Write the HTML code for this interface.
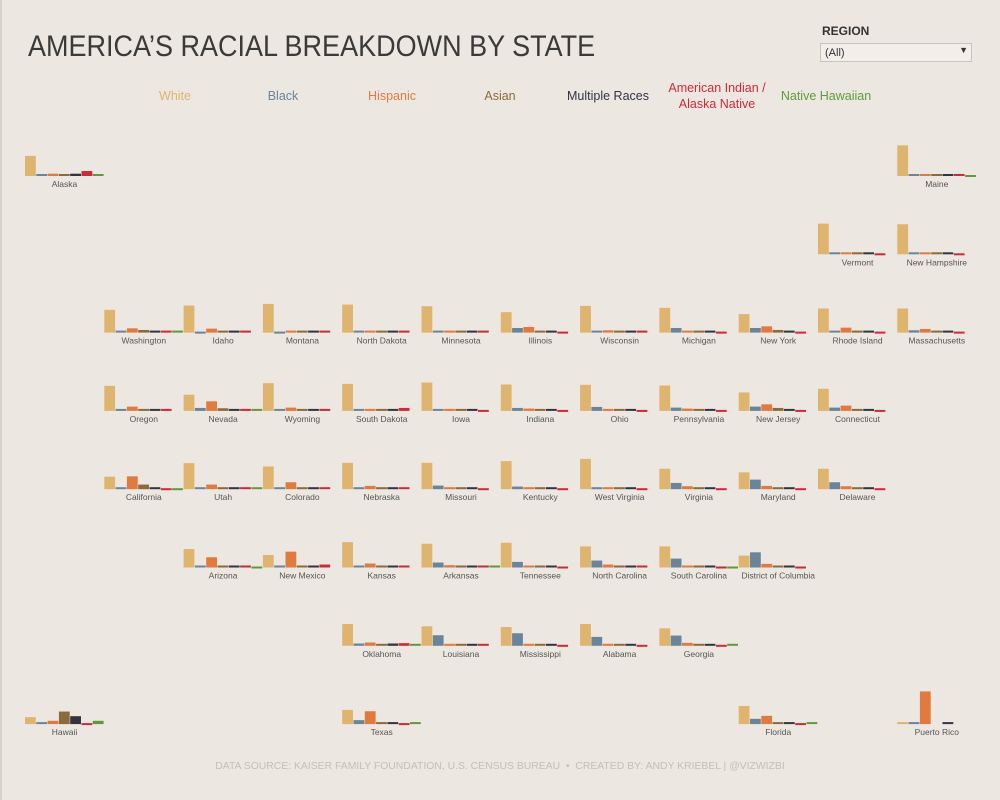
<!DOCTYPE html>
<html><head><meta charset="utf-8"><style>
body{margin:0;width:1000px;height:800px;background:#ece8e1;font-family:"Liberation Sans",sans-serif;position:relative;overflow:hidden}
#title{position:absolute;left:28px;top:30px;font-size:30px;color:#3a3a3a;transform:scaleX(0.9);transform-origin:0 0;white-space:nowrap}
.leg{position:absolute;top:88px;font-size:12.5px;text-align:center;transform:translateX(-50%);line-height:16px}
#reglbl{position:absolute;left:822px;top:24px;font-size:12px;font-weight:bold;color:#333}
#regbox{position:absolute;left:820px;top:43px;width:152px;height:19px;border:1px solid #c8c4bd;background:#f2efea;font-size:11px;color:#333;box-sizing:border-box;padding:3px 4px}
#regbox span{position:absolute;right:3px;top:1px;font-size:9px}
#foot{position:absolute;top:761px;left:0;width:1000px;text-align:center;font-size:10.4px;color:#c3bfb8}
#edge{position:absolute;left:0;top:0;width:2px;height:800px;background:#d6d2cb}
</style></head><body>
<div id="edge"></div>
<div id="title">AMERICA’S RACIAL BREAKDOWN BY STATE</div>
<div id="reglbl">REGION</div>
<div id="regbox">(All)<span>▼</span></div>
<div class="leg" style="left:175px;color:#dfb46f">White</div>
<div class="leg" style="left:283px;color:#6a8499">Black</div>
<div class="leg" style="left:392px;color:#e07a3f">Hispanic</div>
<div class="leg" style="left:500px;color:#8b6a3e">Asian</div>
<div class="leg" style="left:608px;color:#333344">Multiple Races</div>
<div class="leg" style="left:717px;top:80px;color:#cc2a3a">American Indian /<br>Alaska Native</div>
<div class="leg" style="left:826px;color:#5e9a3c">Native Hawaiian</div>
<svg id="map" width="1000" height="800" style="position:absolute;left:0;top:0"></svg>
<div id="foot">DATA SOURCE: KAISER FAMILY FOUNDATION, U.S. CENSUS BUREAU &nbsp;•&nbsp; CREATED BY: ANDY KRIEBEL | @VIZWIZBI</div>
<script>
const races=["White","Black","Hispanic","Asian","Multiple Races","American Indian / Alaska Native","Native Hawaiian"];
const colors=["#dfb46f","#6a8499","#e07a3f","#8b6a3e","#333344","#cc2a3a","#5e9a3c"];
const states=["Alaska","Maine","Vermont","New Hampshire","Washington","Idaho","Montana","North Dakota","Minnesota","Illinois","Wisconsin","Michigan","New York","Rhode Island","Massachusetts","Oregon","Nevada","Wyoming","South Dakota","Iowa","Indiana","Ohio","Pennsylvania","New Jersey","Connecticut","California","Utah","Colorado","Nebraska","Missouri","Kentucky","West Virginia","Virginia","Maryland","Delaware","Arizona","New Mexico","Kansas","Arkansas","Tennessee","North Carolina","South Carolina","District of Columbia","Oklahoma","Louisiana","Mississippi","Alabama","Georgia","Hawaii","Texas","Florida","Puerto Rico"];
const gridCol=[0,11,10,11,1,2,3,4,5,6,7,8,9,10,11,1,2,3,4,5,6,7,8,9,10,1,2,3,4,5,6,7,8,9,10,2,3,4,5,6,7,8,9,4,5,6,7,8,0,4,9,11];
const gridRow=[0,0,1,1,2,2,2,2,2,2,2,2,2,2,2,3,3,3,3,3,3,3,3,3,3,4,4,4,4,4,4,4,4,4,4,5,5,5,5,5,5,5,5,6,6,6,6,6,7,7,7,7];
const white=[61,93,93,91,69,82,87,85,80,62,81,75,56,73,73,76,49,84,82,86,80,79,77,56,67,38,79,69,80,80,85,92,62,51,62,56,38,77,72,75,64,64,36,66,59,57,66,53,21,43,55,1];
const black=[3,1,1,1,4,0,0,3,6,14,6,14,14,6,7,2,9,1,1,3,9,12,10,13,10,5,1,4,4,11,8,3,19,29,21,4,2,6,15,17,21,27,46,7,32,38,27,31,2,12,16,1];
const hispanic=[7,2,2,4,13,12,4,4,5,17,7,5,19,15,11,13,29,10,4,6,7,4,7,20,16,39,14,21,10,4,3,1,9,10,9,31,48,12,7,5,9,6,11,10,5,3,4,9,10,39,25,99];
const asian=[6,1,2,3,8,1,1,1,5,5,3,3,8,3,6,4,8,1,1,2,2,2,3,9,4,14,2,3,2,2,1,1,6,6,4,3,1,3,1,2,3,1,4,2,2,1,1,4,38,5,3,null];
const multi=[7,2,2,1,4,2,2,2,3,2,2,2,2,2,2,4,4,1,2,2,2,3,2,1,2,3,2,3,2,2,2,2,3,3,3,2,2,3,2,2,2,2,2,7,2,1,2,2,24,1,1,1];
const aian=[15,1,0,0,1,1,6,5,1,0,1,0,0,0,0,1,1,2,9,0,0,0,0,0,0,0,1,1,1,0,0,0,0,0,0,4,9,1,1,0,1,0,0,8,1,0,0,0,0,0,0,null];
const nhpi=[1,0,null,null,1,null,null,null,null,null,null,null,null,null,null,null,1,null,null,null,null,null,null,null,null,0,1,null,null,null,null,null,null,null,null,0,null,null,1,null,null,0,null,1,null,null,null,1,10,1,1,null];
const series=[white,black,hispanic,asian,multi,aian,nhpi];
const NS="http://www.w3.org/2000/svg";
const svg=document.getElementById("map");
const colX=c=>25+c*79.3;
const rowY=r=>176+r*78.3;
const hScale=v=>Math.max(v*0.33,2);
states.forEach((s,i)=>{
  const x0=colX(gridCol[i]), y0=rowY(gridRow[i]);
  series.forEach((arr,k)=>{
    const v=arr[i]; if(v===null||v===undefined) return;
    const h=hScale(v);
    const r=document.createElementNS(NS,"rect");
    r.setAttribute("x",x0+k*11.3);r.setAttribute("y",y0-h+(v<1?1:0));
    r.setAttribute("width",10.8);r.setAttribute("height",h);
    r.setAttribute("fill",colors[k]);
    
    
    svg.appendChild(r);
  });
  const t=document.createElementNS(NS,"text");
  t.setAttribute("x",x0+39.5);t.setAttribute("y",y0+11);
  t.setAttribute("text-anchor","middle");t.setAttribute("font-size","8.5");
  t.setAttribute("fill","#555");t.setAttribute("font-family","Liberation Sans, sans-serif");
  t.textContent=s;
  
  
  svg.appendChild(t);
});
</script>
</body></html>
